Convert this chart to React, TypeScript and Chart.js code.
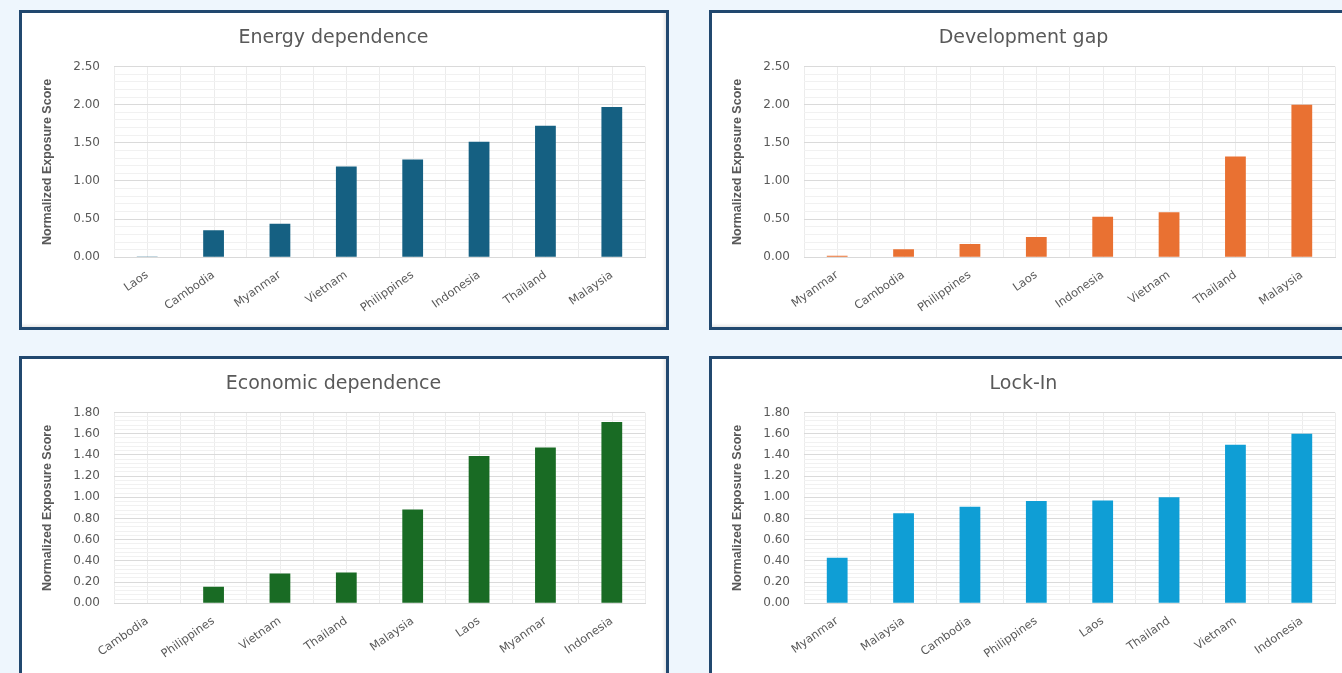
import React, { useEffect, useRef } from "react";
import { Chart, registerables } from "chart.js";

Chart.register(...registerables);

// ---- data -------------------------------------------------------------
const energyCountries = ["Laos", "Cambodia", "Myanmar", "Vietnam", "Philippines", "Indonesia", "Thailand", "Malaysia"];
const energyScores = [0.01, 0.355, 0.44, 1.19, 1.28, 1.515, 1.725, 1.97];

const devCountries = ["Myanmar", "Cambodia", "Philippines", "Laos", "Indonesia", "Vietnam", "Thailand", "Malaysia"];
const devScores = [0.02, 0.105, 0.175, 0.265, 0.53, 0.59, 1.32, 2.0];

const econCountries = ["Cambodia", "Philippines", "Vietnam", "Thailand", "Malaysia", "Laos", "Myanmar", "Indonesia"];
const econScores = [0.0, 0.155, 0.28, 0.29, 0.885, 1.39, 1.47, 1.71];

const lockCountries = ["Myanmar", "Malaysia", "Cambodia", "Philippines", "Laos", "Thailand", "Vietnam", "Indonesia"];
const lockScores = [0.43, 0.85, 0.91, 0.965, 0.97, 1.0, 1.495, 1.6];

// y-axis ranges: [max, labelled step, minor gridline step]
const topAxis = [2.5, 0.5, 0.1];
const bottomAxis = [1.8, 0.2, 0.04];

const yAxisTitle = "Normalized Exposure Score";

// ---- styling ----------------------------------------------------------
const FONT = "'DejaVu Sans', sans-serif";
const TEXT = "#595959";
const PAGE_BG = "#eef6fd";
const FRAME = "#21486f";
const CANVAS_W = 644;
const CANVAS_H = 314;

// thin vertical lines through the middle of every category
const categoryMidLines = {
  id: "categoryMidLines",
  beforeDraw(chart: any) {
    const x = chart.scales.x;
    const { top, bottom } = chart.chartArea;
    const ctx = chart.ctx;
    ctx.save();
    ctx.strokeStyle = "#ececec";
    ctx.lineWidth = 1;
    x.ticks.forEach((_: any, i: number) => {
      const px = Math.round(x.getPixelForTick(i)) + 0.5;
      ctx.beginPath();
      ctx.moveTo(px, top);
      ctx.lineTo(px, bottom);
      ctx.stroke();
    });
    ctx.restore();
  },
};

type PanelProps = {
  title: string;
  labels: string[];
  values: number[];
  color: string;
  axis: number[];
  left: number;
  top: number;
  boxHeight?: number;
};

function Panel({ title, labels, values, color, axis, left, top, boxHeight = CANVAS_H }: PanelProps) {
  const ref = useRef<HTMLCanvasElement>(null);

  useEffect(() => {
    const [yMax, major, minor] = axis;
    const isMajor = (v: number) => Math.abs(v / major - Math.round(v / major)) < 1e-6;
    const tickValues: number[] = [];
    const n = Math.round(yMax / minor);
    for (let i = 0; i <= n; i++) tickValues.push(Math.round(i * minor * 1000) / 1000);

    const chart = new Chart(ref.current!, {
      type: "bar",
      data: {
        labels,
        datasets: [
          {
            data: values,
            backgroundColor: color,
            borderWidth: 0,
            barPercentage: 0.313,
            categoryPercentage: 1,
          },
        ],
      },
      options: {
        responsive: false,
        animation: false,
        devicePixelRatio: 1,
        layout: { padding: { left: 0, right: 21, top: 0, bottom: 0 } },
        plugins: {
          legend: { display: false },
          tooltip: { enabled: false },
          title: {
            display: true,
            text: title,
            color: TEXT,
            font: { family: FONT, size: 19, weight: "normal" },
            padding: { top: 13.5, bottom: 17.2 },
          },
        },
        scales: {
          x: {
            grid: { color: "#ececec", offset: true, drawTicks: false },
            border: { display: true, color: "#d9d9d9" },
            ticks: {
              color: TEXT,
              font: { family: FONT, size: 11.5 },
              minRotation: 35,
              maxRotation: 35,
              autoSkip: false,
              padding: 11,
            },
            afterFit: (scale: any) => {
              scale.height = 69.7;
            },
          },
          y: {
            min: 0,
            max: yMax,
            border: { display: false },
            grid: {
              drawTicks: false,
              color: (ctx: any) => (isMajor(ctx.tick.value) ? "#dadada" : "#f1f1f1"),
            },
            afterBuildTicks: (scale: any) => {
              scale.ticks = tickValues.map((v) => ({ value: v }));
            },
            ticks: {
              autoSkip: false,
              color: TEXT,
              font: { family: FONT, size: 12 },
              padding: 14,
              callback: (v: any) => (isMajor(Number(v)) ? Number(v).toFixed(2) : ""),
            },
            title: {
              display: true,
              text: yAxisTitle,
              color: TEXT,
              font: { family: "'Liberation Sans', Arial, sans-serif", size: 12.5, weight: "bold" },
              padding: { top: 18.5, bottom: 0 },
            },
            afterFit: (scale: any) => {
              scale.width = 92;
            },
          },
        },
      },
      plugins: [categoryMidLines],
    });
    return () => chart.destroy();
  }, [title, labels, values, color, axis]);

  return (
    <div
      style={{
        position: "absolute",
        left,
        top,
        width: CANVAS_W,
        height: boxHeight,
        border: `3px solid ${FRAME}`,
        background: "#ffffff",
        boxShadow: "inset -3px -3px 3px -1px rgba(0,0,0,0.10)",
      }}
    >
      <canvas ref={ref} width={CANVAS_W} height={CANVAS_H} style={{ display: "block", width: CANVAS_W, height: CANVAS_H }} />
    </div>
  );
}

export default function App() {
  return (
    <div
      style={{
        position: "fixed",
        left: 0,
        top: 0,
        width: 1342,
        height: 673,
        overflow: "hidden",
        background: PAGE_BG,
      }}
    >
      <Panel title="Energy dependence" labels={energyCountries} values={energyScores} color="#156082" axis={topAxis} left={19} top={10} />
      <Panel title="Development gap" labels={devCountries} values={devScores} color="#e97132" axis={topAxis} left={709} top={10} />
      <Panel title="Economic dependence" labels={econCountries} values={econScores} color="#196b24" axis={bottomAxis} left={19} top={356} boxHeight={340} />
      <Panel title="Lock-In" labels={lockCountries} values={lockScores} color="#0f9ed5" axis={bottomAxis} left={709} top={356} boxHeight={340} />
    </div>
  );
}
